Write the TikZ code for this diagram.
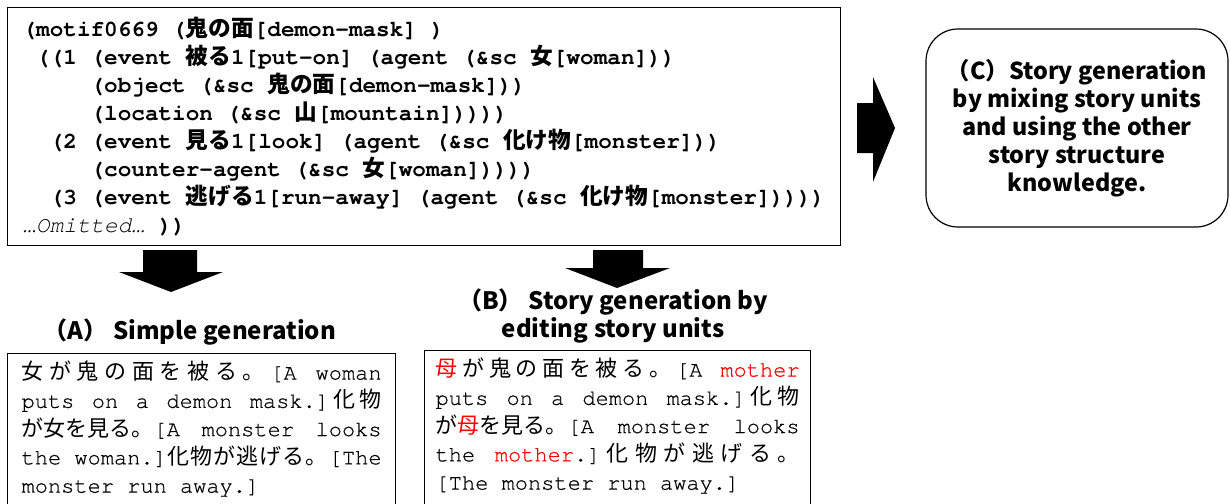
\documentclass[tikz,border=0pt]{standalone}
\usepackage{fontspec}
\usepackage{tikz}
\setmonofont{texgyrecursor}[Extension=.otf, UprightFont=*-regular, BoldFont=*-bold,
  ItalicFont=*-italic, BoldItalicFont=*-bolditalic]
\newfontfamily\storymono{texgyrecursor-regular.otf}[FakeBold=0.5]
\newfontfamily\jpfont{Noto Sans CJK JP}
\newcommand\jp[1]{{\jpfont #1}}
\newcommand\redtxt[1]{\textcolor{red}{#1}}
\newcommand\monospaces{\spaceskip=0.6em\relax\xspaceskip=0.6em\relax}
\newcommand\codefont{\fontsize{17}{21}\selectfont\ttfamily\bfseries}
\newcommand\storyfont{\fontsize{16.5}{21.2}\selectfont\storymono}
\newcommand\headfont{\fontsize{18}{21}\selectfont\jpfont\bfseries}

\begin{document}
\begin{tikzpicture}[x=0.75pt, y=-0.75pt,
    codebox/.style={draw, line width=0.9pt, anchor=north west, font=\codefont,
      execute at begin node=\monospaces,
      text width=602pt, inner xsep=11.25pt, minimum height=178.5pt},
    storybox/.style={draw, line width=0.9pt, anchor=north west, font=\storyfont,
      execute at begin node=\monospaces, inner ysep=5.5pt},
    headline/.style={align=center, font=\headfont, inner sep=0pt},
    roundbox/.style={draw, line width=0.9pt, rounded corners=24pt, align=center,
      font=\fontsize{17.5}{21}\selectfont\jpfont\bfseries,
      minimum width=226.5pt, minimum height=148.5pt},
    blockarrow/.style={fill=black}]
    \useasboundingbox (0,0) rectangle (1230,503);

    % Structure of the story unit
    \node[codebox] (code) at (7,7) {%
      \mbox{(motif0669 (\jp{鬼の面}[demon-mask] )}\\
      \mbox{\phantom{x}((1 (event \jp{被る}1[put-on] (agent (\&sc \jp{女}[woman]))}\\
      \mbox{\phantom{xxxxx}(object (\&sc \jp{鬼の面}[demon-mask]))}\\
      \mbox{\phantom{xxxxx}(location (\&sc \jp{山}[mountain]))))}\\
      \mbox{\phantom{xx}(2 (event \jp{見る}1[look] (agent (\&sc \jp{化け物}[monster]))}\\
      \mbox{\phantom{xxxxx}(counter-agent (\&sc \jp{女}[woman]))))}\\
      \mbox{\phantom{xx}(3 (event \jp{逃げる}1[run-away] (agent (\&sc \jp{化け物}[monster]))))}\\
      \mbox{\textit{\mdseries …Omitted…} ))}};

    % Block arrows
    \fill[blockarrow] (143,250) -- (197,250) -- (197,272) -- (223,272) -- (171,292)
      -- (119,272) -- (143,272) -- cycle;
    \fill[blockarrow] (593,250) -- (643,250) -- (643,268) -- (670,268) -- (617,288)
      -- (565,268) -- (593,268) -- cycle;
    \fill[blockarrow] (857,103) -- (873,103) -- (873,77) -- (895,128) -- (873,182)
      -- (873,153) -- (857,153) -- cycle;

    % Generation methods
    \node[headline] (titleA) at (190,332) {（A） Simple generation};
    \node[headline] (titleB) at (613,316) {（B） Story generation by\\editing story units};
    \node[roundbox] (mixing) at (1077,128) {（C）Story generation\\by mixing story units\\and using the other\\story structure\\knowledge.};

    % Generated stories
    \node[storybox, text width=270pt, inner xsep=10.5pt] (simple) at (7,353) {%
      \makebox[\linewidth][s]{\jp{女\hfill が\hfill 鬼\hfill の\hfill 面\hfill を\hfill 被\hfill る\hfill 。}\hfill [A\ \hfill woman}\\
      \makebox[\linewidth][s]{puts\ \hfill on\ \hfill a\ \hfill demon\ \hfill mask.]\hfill\jp{化\hfill 物}}\\
      \makebox[\linewidth][s]{\jp{が女を見る。}[A\ \hfill monster\ \hfill looks}\\
      \makebox[\linewidth][s]{the woman.]\hfill\jp{化\hfill 物\hfill が\hfill 逃\hfill げ\hfill る\hfill 。}\hfill [The}\\
      \makebox[\linewidth][l]{monster run away.]\rule[-10pt]{0pt}{10pt}}};
    \node[storybox, text width=273pt, inner xsep=8.25pt] (edited) at (424,350) {%
      \makebox[\linewidth][s]{\jp{\redtxt{母}\hfill が\hfill 鬼\hfill の\hfill 面\hfill を\hfill 被\hfill る\hfill 。}\hfill [A\ \hfill \redtxt{mother}}\\
      \makebox[\linewidth][s]{puts\ \hfill on\ \hfill a\ \hfill demon\ \hfill mask.]\hfill\jp{化\hfill 物}}\\
      \makebox[\linewidth][s]{\jp{が\redtxt{母}を見る。}[A\ \hfill monster\ \hfill looks}\\
      \makebox[\linewidth][s]{the\ \hfill \redtxt{mother}.]\hfill\jp{化\hfill 物\hfill が\hfill 逃\hfill げ\hfill る\hfill 。}}\\
      \makebox[\linewidth][l]{[The monster run away.]\rule[-10pt]{0pt}{10pt}}};
\end{tikzpicture}
\end{document}
